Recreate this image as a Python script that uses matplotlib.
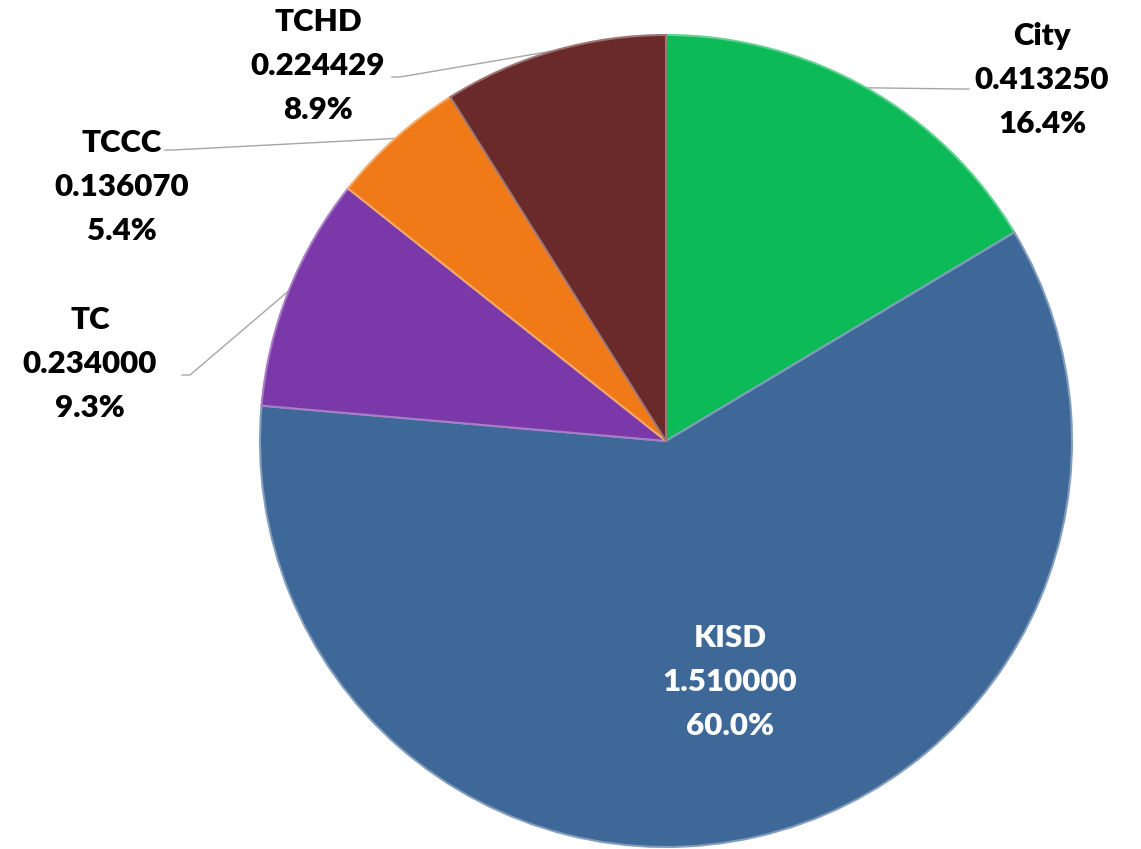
import numpy as np
import matplotlib.pyplot as plt
from matplotlib.colors import to_rgb

names = ['City', 'KISD', 'TC', 'TCCC', 'TCHD']
values = [0.413250, 1.510000, 0.234000, 0.136070, 0.224429]
colors = ['#0cba58', '#3e6898', '#7a38a8', '#f07a17', '#6a2a2a']

# label anchor (text centre) in pixels from the top left, and leader start
label_pos = {
    'City': (1042, 80),
    'TC': (90, 364),
    'TCCC': (122, 187),
    'TCHD': (318, 66),
}
leader_start = {
    'City': (969, 89),
    'TC': (182, 375),
    'TCCC': (165, 150),
    'TCHD': (392, 77),
}

W, H = 1141, 849
fig = plt.figure(figsize=(W / 100, H / 100), dpi=100)
ax = fig.add_axes([0, 0, 1, 1])
ax.set_xlim(0, W)
ax.set_ylim(0, H)
ax.set_aspect('equal')
ax.axis('off')

cx, cy, r = 666, H - 441, 406

def shade(c, f=0.35):
    c = np.array(to_rgb(c))
    return tuple(c + (1 - c) * f)

wedges, _ = ax.pie(values, center=(cx, cy), radius=r, startangle=90,
                   counterclock=False, colors=colors,
                   wedgeprops=dict(linewidth=1.5))
for w, c in zip(wedges, colors):
    w.set_edgecolor(shade(c))
ax.set_xlim(0, W)
ax.set_ylim(0, H)

total = sum(values)
font = dict(family=['Lato', 'DejaVu Sans'], fontweight='heavy', fontsize=22.5)

for w, n, v in zip(wedges, names, values):
    txt = f'{n}\n{v:.6f}\n{v / total * 100:.1f}%'
    if n == 'KISD':
        ax.text(730, H - 682, txt, ha='center', va='center', color='white',
                linespacing=1.7, **font)
        continue
    lx, ly = label_pos[n]
    ax.text(lx, H - ly, txt, ha='center', va='center', color='black',
            linespacing=1.7, **font)
    mid = np.deg2rad((w.theta1 + w.theta2) / 2)
    ex, ey = cx + r * np.cos(mid), cy + r * np.sin(mid)
    sx, sy = leader_start[n]
    step = -8 if sx > ex else 8
    ax.plot([sx, sx + step, ex], [H - sy, H - sy, ey], color='#a6a6a6',
            lw=1, zorder=0)

fig.savefig('out.png', dpi=100)
